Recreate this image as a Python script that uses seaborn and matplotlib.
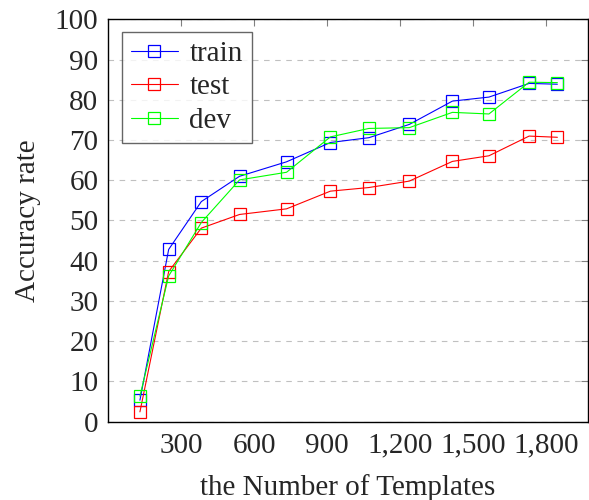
import numpy as np
import pandas as pd
import matplotlib
matplotlib.use('Agg')
import matplotlib.pyplot as plt
import seaborn as sns

# data
templates = [131, 249, 383, 540, 733, 913, 1071, 1237, 1414, 1564, 1729, 1845]
train = [5.3, 42.8, 54.7, 61.0, 64.6, 69.4, 70.6, 73.9, 79.7, 80.7, 84.1, 83.9]
test = [2.4, 37.3, 48.1, 51.5, 52.9, 57.3, 58.2, 59.8, 64.7, 66.1, 71.0, 70.7]
dev = [6.3, 36.2, 49.5, 60.1, 62.0, 70.8, 72.9, 73.1, 76.9, 76.5, 84.4, 84.3]

series = {'train': (train, '#0000ff'), 'test': (test, '#ff0000'), 'dev': (dev, '#00ff00')}

sns.set_style("white")
plt.rcParams['font.family'] = ['Liberation Serif', 'DejaVu Serif']

fig = plt.figure(figsize=(5.89, 5.0), dpi=100)
ax = fig.add_axes([0.1834, 0.157, 0.8146, 0.804])

for name, (vals, col) in series.items():
    sns.lineplot(x=templates, y=vals, ax=ax, color=col, linewidth=0.8,
                 marker='s', markersize=8, markerfacecolor='none',
                 markeredgecolor=col, markeredgewidth=0.9, label=name)

ax.set_xlim(0, 1970)
ax.set_ylim(0, 100)
ax.set_xticks([300, 600, 900, 1200, 1500, 1800])
ax.set_xticklabels(['300', '600', '900', '1,200', '1,500', '1,800'])
ax.set_yticks(np.arange(0, 101, 10))

ax.yaxis.grid(True, linestyle=(0, (5, 5)), color='#c0c0c0', linewidth=0.8)
ax.xaxis.grid(False)
ax.set_axisbelow(True)

ax.tick_params(axis='both', which='both', direction='in', length=5, width=0.8,
               color='#808080', top=True, right=True, labelsize=21, pad=7)
ax.tick_params(axis='x', pad=8)
for sp in ax.spines.values():
    sp.set_color('black')
    sp.set_linewidth(1.0)

ax.set_xlabel('the Number of Templates', fontsize=21, labelpad=11)
ax.set_ylabel('Accuracy rate', fontsize=21, labelpad=10)

leg = ax.legend(loc='upper left', bbox_to_anchor=(0.03, 0.97), fontsize=21,
                frameon=True, fancybox=False, handlelength=1.6, handletextpad=0.4,
                labelspacing=0.25, borderpad=0.3, borderaxespad=0.0,
                edgecolor='#404040')
leg.get_frame().set_linewidth(1.0)

fig.savefig('out.png', dpi=100)
